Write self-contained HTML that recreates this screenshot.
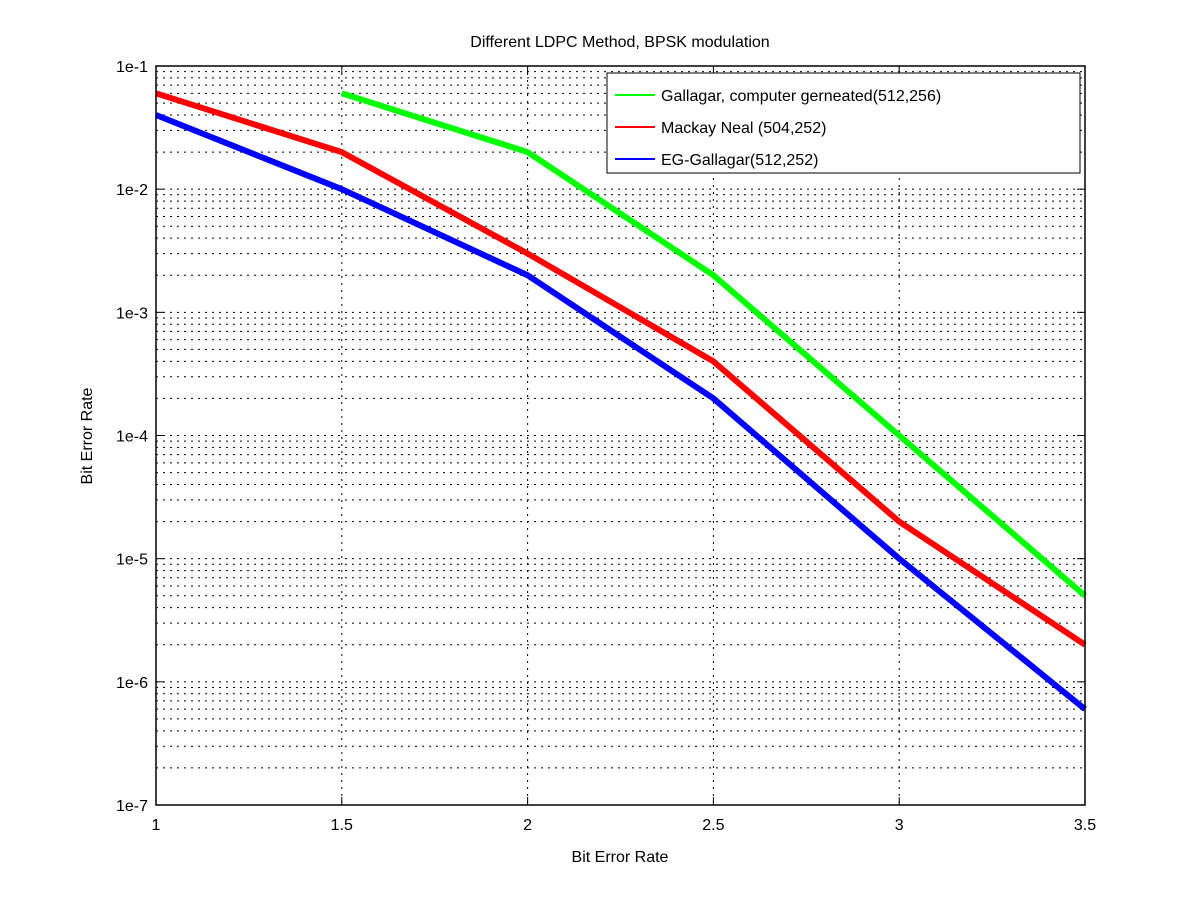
<!DOCTYPE html>
<html><head><meta charset="utf-8"><style>
body{margin:0;background:#fff;}
svg text{font-family:"Liberation Sans",sans-serif;}
</style></head><body>
<svg id="chart" width="1200" height="900" xmlns="http://www.w3.org/2000/svg">
<rect width="1200" height="900" fill="#fff"/>
<g id="grid"></g>
<g id="series"></g>
<g id="axes"></g>
<text x="620" y="47" text-anchor="middle" font-size="16">Different LDPC Method, BPSK modulation</text>
<text x="620" y="862" text-anchor="middle" font-size="16">Bit Error Rate</text>
<text transform="translate(92,436) rotate(-90)" text-anchor="middle" font-size="16">Bit Error Rate</text>
<g>
<rect x="607" y="73" width="473" height="100" fill="#fff" stroke="#000" stroke-width="1"/>
<line x1="615" y1="95" x2="655" y2="95" stroke="#00ff00" stroke-width="2"/>
<text x="661" y="101" font-size="16">Gallagar, computer gerneated(512,256)</text>
<line x1="615" y1="127" x2="655" y2="127" stroke="#ff0000" stroke-width="2"/>
<text x="661" y="133" font-size="16">Mackay Neal (504,252)</text>
<line x1="615" y1="159" x2="655" y2="159" stroke="#0000ff" stroke-width="2"/>
<text x="661" y="165" font-size="16">EG-Gallagar(512,252)</text>
</g>
</svg>
<script>
const xValues=[1,1.5,2,2.5,3,3.5];
const gallagar=[null,6e-2,2e-2,2e-3,1e-4,5e-6];
const mackay=[6e-2,2e-2,3e-3,4e-4,2e-5,2e-6];
const egGallagar=[4e-2,1e-2,2e-3,2e-4,1e-5,6e-7];
const xTicks=[1,1.5,2,2.5,3,3.5];
const xTickLabels=["1","1.5","2","2.5","3","3.5"];
const yExps=[-1,-2,-3,-4,-5,-6,-7];
const yTickLabels=["1e-1","1e-2","1e-3","1e-4","1e-5","1e-6","1e-7"];
const L=156,R=1085,T=66,B=805;
const xs=v=>L+(v-1)/2.5*(R-L);
const ys=v=>T+(-1-Math.log10(v))/6*(B-T);
const NS="http://www.w3.org/2000/svg";
function mk(tag,attrs,parent){const e=document.createElementNS(NS,tag);for(const k in attrs)e.setAttribute(k,attrs[k]);parent.appendChild(e);return e;}
const grid=document.getElementById('grid'),axes=document.getElementById('axes'),ser=document.getElementById('series');
// horizontal grid
for(let d=-7;d<-1;d++){for(let m=1;m<10;m++){const v=m*Math.pow(10,d);const y=ys(v);
const l=mk('line',{x1:L,x2:R,y1:y,y2:y,stroke:'#000','stroke-width':1,'stroke-dasharray':'2,5'},grid);

}}
xTicks.forEach((t,i)=>{const x=xs(t);
if(i>0&&i<xTicks.length-1){const l=mk('line',{x1:x,x2:x,y1:T,y2:B,stroke:'#000','stroke-width':1,'stroke-dasharray':'2,5'},grid);

}
mk('line',{x1:x,x2:x,y1:B,y2:B-8,stroke:'#000'},axes);
mk('line',{x1:x,x2:x,y1:T,y2:T+8,stroke:'#000'},axes);
const tx=mk('text',{x:x,y:B+25,'text-anchor':'middle','font-size':16},axes);tx.textContent=xTickLabels[i];

});
yExps.forEach((e,i)=>{const y=ys(Math.pow(10,e));
mk('line',{x1:L,x2:L+8,y1:y,y2:y,stroke:'#000'},axes);
mk('line',{x1:R,x2:R-8,y1:y,y2:y,stroke:'#000'},axes);
const tx=mk('text',{x:L-8,y:y+6,'text-anchor':'end','font-size':16},axes);tx.textContent=yTickLabels[i];

});
mk('rect',{x:L,y:T,width:R-L,height:B-T,fill:'none',stroke:'#000','stroke-width':1.5},axes);
function line(vals,color,name){const pts=[];vals.forEach((v,i)=>{if(v!=null)pts.push(xs(xValues[i])+','+ys(v));});
const p=mk('polyline',{points:pts.join(' '),fill:'none',stroke:color,'stroke-width':6,'stroke-linejoin':'round'},ser);

}
line(gallagar,'#00ff00','gallagar-line');
line(mackay,'#ff0000','mackay-neal-line');
line(egGallagar,'#0000ff','eg-gallagar-line');
</script>
</body></html>
